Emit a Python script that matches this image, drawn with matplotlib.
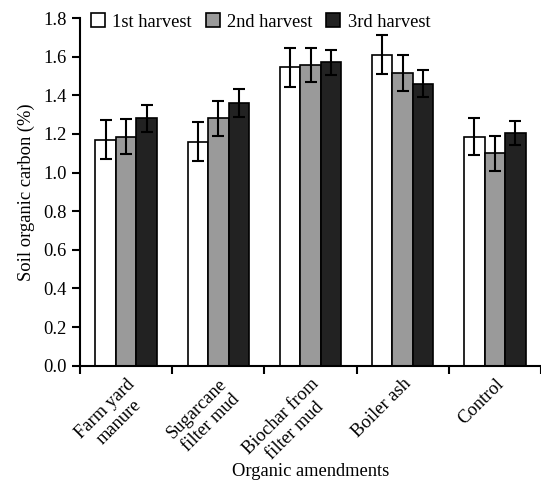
import numpy as np
from matplotlib import pyplot as plt

categories = ['Farm yard\nmanure', 'Sugarcane\nfilter mud', 'Biochar from\nfilter mud', 'Boiler ash', 'Control']
labels = ['1st harvest', '2nd harvest', '3rd harvest']
colors = ['white', '#9a9a9a', '#222222']
harvest1 = [1.17, 1.16, 1.545, 1.61, 1.185]
harvest2 = [1.185, 1.28, 1.557, 1.515, 1.10]
harvest3 = [1.28, 1.36, 1.57, 1.46, 1.205]
err1 = [0.10, 0.10, 0.10, 0.10, 0.095]
err2 = [0.09, 0.09, 0.09, 0.093, 0.09]
err3 = [0.07, 0.07, 0.065, 0.07, 0.06]


def main():
    plt.rcParams['font.family'] = ['Liberation Serif', 'DejaVu Serif']
    fig = plt.figure(figsize=(5.41, 4.87), dpi=100)
    ax = fig.add_axes([0.148, 0.249, 0.852, 0.714])

    x = np.arange(len(categories))
    w = 0.222
    series = [harvest1, harvest2, harvest3]
    errs = [err1, err2, err3]
    for i in range(3):
        ax.bar(x + (i - 1) * w, series[i], w, color=colors[i], edgecolor='black',
               linewidth=1.2, label=labels[i], yerr=errs[i],
               error_kw=dict(ecolor='black', elinewidth=1.5, capsize=4, capthick=1.5))

    ax.set_xlim(-0.5, 4.47)
    ax.set_ylim(0, 1.8)
    ax.set_yticks(np.arange(0, 1.81, 0.2))
    ax.set_yticklabels(['%.1f' % v for v in np.arange(0, 1.81, 0.2)])
    ax.set_xticks(x)
    ax.set_xticklabels(categories, rotation=45, ha='right', rotation_mode='anchor',
                       multialignment='center')
    ax.set_xticks(np.arange(-0.5, 4.6, 1), minor=True)
    ax.tick_params(axis='x', which='major', length=0, labelsize=13.3, pad=7)
    ax.tick_params(axis='x', which='minor', length=6, width=1.5, direction='out')
    ax.tick_params(axis='y', length=6, width=1.5, labelsize=13.3)
    for s in ['top', 'right']:
        ax.spines[s].set_visible(False)
    for s in ['left', 'bottom']:
        ax.spines[s].set_linewidth(1.5)

    ax.set_ylabel('Soil organic carbon (%)', fontsize=13.3, labelpad=6)
    ax.set_xlabel('Organic amendments', fontsize=13.3)
    ax.xaxis.set_label_coords(0.5, -0.28)
    ax.legend(loc='upper left', bbox_to_anchor=(0.0, 1.045), ncol=3, frameon=False,
              fontsize=13.3, handlelength=0.75, handleheight=0.75, handletextpad=0.4,
              columnspacing=0.75, borderaxespad=0.2)

    fig.savefig('out.png', dpi=100)


if __name__ == "__main__":
    main()
